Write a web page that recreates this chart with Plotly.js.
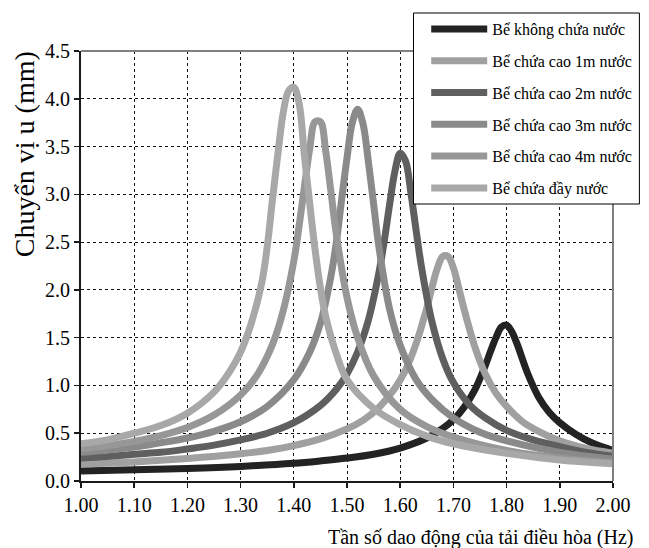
<!DOCTYPE html>
<html>
<head>
<meta charset="utf-8">
<script src="https://cdn.plot.ly/plotly-3.0.1.min.js"></script>
<style>html,body{margin:0;padding:0;background:#fff;}#chart{width:649px;height:548px;}</style>
</head>
<body>
<div id="chart"></div>
<script>
// Series names (legend)
const seriesNames = [
  "Bể không chứa nước",
  "Bể chứa cao 1m nước",
  "Bể chứa cao 2m nước",
  "Bể chứa cao 3m nước",
  "Bể chứa cao 4m nước",
  "Bể chứa đầy nước"
];

// Frequency (Hz) / displacement (mm)
const freqEmpty = [1.00,1.10,1.20,1.30,1.40,1.45,1.50,1.55,1.60,1.65,1.68,1.70,1.72,1.74,1.76,1.77,1.78,1.79,1.80,1.81,1.82,1.84,1.86,1.88,1.90,1.93,1.96,2.00];
const dispEmpty = [0.105,0.117,0.132,0.153,0.185,0.21,0.24,0.28,0.345,0.45,0.55,0.64,0.77,0.95,1.21,1.36,1.50,1.61,1.63,1.56,1.43,1.12,0.88,0.72,0.61,0.49,0.40,0.32];

const freq1m = [1.00,1.10,1.20,1.30,1.35,1.40,1.45,1.50,1.53,1.56,1.59,1.61,1.63,1.65,1.66,1.67,1.68,1.69,1.70,1.71,1.72,1.74,1.76,1.78,1.80,1.83,1.86,1.90,1.95,2.00];
const disp1m = [0.18,0.20,0.235,0.285,0.32,0.37,0.44,0.545,0.635,0.77,0.97,1.16,1.44,1.81,2.03,2.23,2.35,2.35,2.23,2.02,1.80,1.41,1.12,0.92,0.78,0.62,0.52,0.42,0.34,0.29];

const freq2m = [1.00,1.05,1.10,1.15,1.20,1.25,1.30,1.35,1.40,1.45,1.48,1.50,1.52,1.54,1.56,1.57,1.58,1.59,1.60,1.61,1.62,1.63,1.64,1.66,1.68,1.70,1.73,1.76,1.80,1.85,1.90,1.95,2.00];
const disp2m = [0.24,0.255,0.28,0.30,0.335,0.375,0.43,0.50,0.61,0.79,0.96,1.12,1.35,1.68,2.18,2.51,2.89,3.24,3.43,3.35,3.02,2.62,2.24,1.66,1.28,1.03,0.80,0.66,0.53,0.43,0.36,0.30,0.26];

const freq3m = [1.00,1.05,1.10,1.15,1.20,1.25,1.30,1.35,1.40,1.43,1.45,1.47,1.48,1.49,1.50,1.51,1.52,1.53,1.54,1.55,1.56,1.58,1.60,1.63,1.66,1.70,1.75,1.80,1.90,2.00];
const disp3m = [0.30,0.325,0.355,0.40,0.45,0.52,0.62,0.78,1.06,1.35,1.65,2.15,2.50,2.95,3.38,3.75,3.89,3.74,3.35,2.90,2.45,1.80,1.42,1.06,0.85,0.66,0.51,0.42,0.30,0.23];

const freq4m = [1.00,1.05,1.10,1.15,1.20,1.25,1.30,1.33,1.36,1.38,1.40,1.41,1.42,1.43,1.44,1.45,1.46,1.47,1.48,1.50,1.52,1.55,1.60,1.65,1.70,1.80,1.90,2.00];
const disp4m = [0.335,0.37,0.415,0.475,0.56,0.69,0.90,1.10,1.43,1.78,2.30,2.67,3.08,3.48,3.76,3.76,3.45,3.02,2.58,1.92,1.50,1.10,0.75,0.57,0.46,0.32,0.24,0.19];

const freqFull = [1.00,1.05,1.10,1.15,1.20,1.25,1.28,1.30,1.32,1.34,1.35,1.36,1.37,1.38,1.39,1.40,1.41,1.42,1.43,1.44,1.45,1.46,1.48,1.50,1.55,1.60,1.65,1.70,1.80,1.90,2.00];
const dispFull = [0.39,0.43,0.50,0.58,0.71,0.93,1.15,1.35,1.65,2.08,2.45,2.95,3.42,3.85,4.08,4.12,3.95,3.40,2.90,2.42,2.02,1.72,1.33,1.06,0.76,0.59,0.47,0.39,0.29,0.22,0.18];

const xTickVals = [1.0,1.1,1.2,1.3,1.4,1.5,1.6,1.7,1.8,1.9,2.0];
const yTickVals = [0,0.5,1.0,1.5,2.0,2.5,3.0,3.5,4.0,4.5];
const xTitle = "Tần số dao động của tải điều hòa (Hz)";
const yTitle = "Chuyển vị u (mm)";

const colors = ["#232323","#a0a0a0","#5f5f5f","#8a8a8a","#979797","#a8a8a8"];
const xs = [freqEmpty,freq1m,freq2m,freq3m,freq4m,freqFull];
const ys = [dispEmpty,disp1m,disp2m,disp3m,disp4m,dispFull];

const FONT = "Times New Roman";

const data = seriesNames.map((n,i)=>({
  type:"scatter", mode:"lines", name:n, x:xs[i], y:ys[i],
  legendgroup:"g"+i,
  line:{color:colors[i], width:7, shape:"spline", smoothing:1},
  hoverinfo:"skip"
}));

// plot area in px: left 81, right 625, top 51, bottom 481
const L=81, R=625, T=51, B=481, W=R-L, H=B-T;
const px = v => (v-L)/W;
const py = v => (B-v)/H;

const layout = {
  width:649, height:548,
  margin:{l:L, r:649-R, t:T, b:548-B},
  paper_bgcolor:"#fff", plot_bgcolor:"#fff",
  font:{family:FONT, color:"#000"},
  showlegend:true,
  xaxis:{range:[1,2], tickvals:xTickVals, tickformat:".2f",
    showgrid:true, gridcolor:"#111", griddash:"dot", gridwidth:1,
    showline:true, linecolor:"#1a1a1a", linewidth:2, zeroline:false,
    ticks:"outside", ticklen:5, tickwidth:1.5, tickcolor:"#1a1a1a",
    tickfont:{family:FONT, size:20, color:"#000"}},
  yaxis:{range:[0,4.5], tickvals:yTickVals, tickformat:".1f",
    showgrid:true, gridcolor:"#111", griddash:"dot", gridwidth:1,
    showline:true, linecolor:"#1a1a1a", linewidth:2, zeroline:false,
    ticks:"outside", ticklen:5, tickwidth:1.5, tickcolor:"#1a1a1a",
    tickfont:{family:FONT, size:20, color:"#000"}},
  legend:{x:px(434), y:py(12), xanchor:"left", yanchor:"top",
    bgcolor:"rgba(0,0,0,0)", borderwidth:0,
    font:{family:FONT, size:16, color:"#000"},
    traceorder:"grouped", tracegroupgap:8, itemwidth:56},
  shapes:[
    {type:"line", xref:"paper", yref:"paper", x0:0, x1:1, y0:1, y1:1, line:{color:"#808080", width:2}, layer:"above"},
    {type:"line", xref:"paper", yref:"paper", x0:1, x1:1, y0:0, y1:1, line:{color:"#808080", width:2}, layer:"above"},
    {type:"rect", xref:"paper", yref:"paper", x0:px(421), x1:px(652), y0:py(204), y1:py(13),
      line:{color:"#000", width:1}, fillcolor:"#fff", layer:"above"}
  ],
  annotations:[
    {text:yTitle, xref:"paper", yref:"paper", x:px(23), y:py(154), xanchor:"center", yanchor:"middle",
      textangle:-90, showarrow:false, font:{family:FONT, size:28, color:"#000"}},
    {text:xTitle, xref:"paper", yref:"paper", x:px(647), y:py(537), xanchor:"right", yanchor:"middle",
      showarrow:false, font:{family:FONT, size:20, color:"#000"}}
  ]
};

Plotly.newPlot("chart", data, layout, {displayModeBar:false, staticPlot:true});
</script>
</body>
</html>
